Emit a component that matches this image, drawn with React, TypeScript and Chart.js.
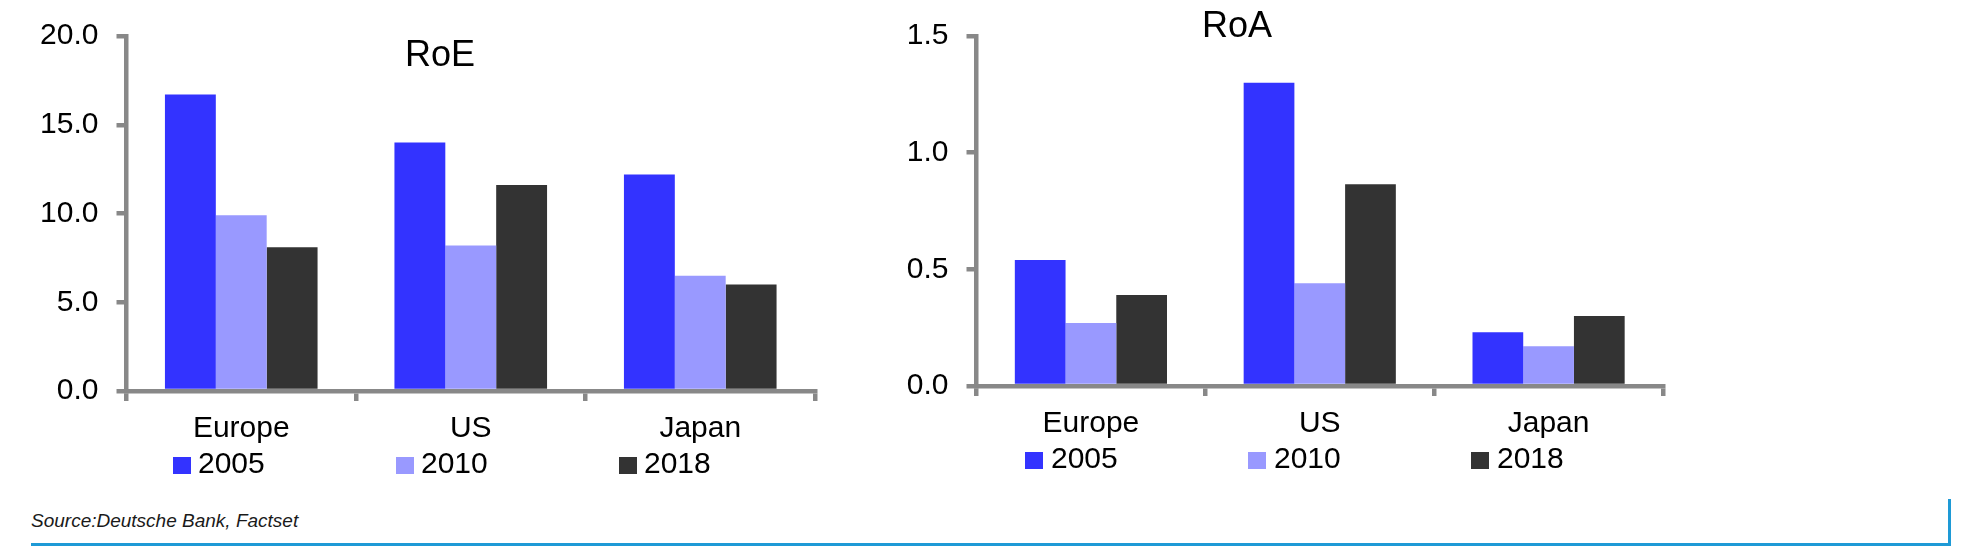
import React, { useEffect, useRef } from "react";
import { Chart, registerables } from "chart.js";

Chart.register(...registerables);

// ---- data ----
const CATEGORIES = ["Europe", "US", "Japan"];
const SERIES_LABELS = ["2005", "2010", "2018"];
const SERIES_COLORS = ["#3333FF", "#9999FF", "#333333"];

const ROE_2005 = [16.7, 14.0, 12.2];
const ROE_2010 = [9.9, 8.2, 6.5];
const ROE_2018 = [8.1, 11.6, 6.0];

const ROA_2005 = [0.54, 1.3, 0.23];
const ROA_2010 = [0.27, 0.44, 0.17];
const ROA_2018 = [0.39, 0.865, 0.3];

const ROE_AXIS = { min: 0, max: 20, step: 5 };
const ROA_AXIS = { min: 0, max: 1.5, step: 0.5 };

const SOURCE_TEXT = "Source:Deutsche Bank, Factset";

// ---- style ----
const FONT = '"Liberation Sans", Arial, Helvetica, sans-serif';
const AXIS_GREY = "#888888";
const AXIS_WIDTH = 4.5;
const RULE_BLUE = "#1e9ad6";

type PanelProps = {
  title: string;
  series: number[][];
  axis: { min: number; max: number; step: number };
  canvasLeft: number;
  canvasWidth: number;
  canvasHeight: number;
  padRight: number;
  padTop: number;
  padBottom: number;
  titleCenterX: number;
  titleTop: number;
  legendLeft: number;
  legendTop: number;
  legendTextOffset: number;
};

function BarPanel(p: PanelProps) {
  const ref = useRef<HTMLCanvasElement | null>(null);

  useEffect(() => {
    if (!ref.current) return;
    const chart = new Chart(ref.current, {
      type: "bar",
      data: {
        labels: CATEGORIES,
        datasets: p.series.map((vals, i) => ({
          label: SERIES_LABELS[i],
          data: vals,
          backgroundColor: SERIES_COLORS[i],
          borderWidth: 0,
          categoryPercentage: 0.665,
          barPercentage: 1,
        })),
      },
      options: {
        animation: false,
        responsive: false,
        maintainAspectRatio: false,
        devicePixelRatio: 1,
        layout: {
          padding: { left: 0, right: p.padRight, top: p.padTop, bottom: p.padBottom },
        },
        plugins: {
          legend: { display: false },
          title: { display: false },
          tooltip: { enabled: false },
        },
        scales: {
          x: {
            offset: true,
            grid: {
              display: true,
              offset: true,
              drawOnChartArea: false,
              drawTicks: true,
              tickLength: 10,
              color: AXIS_GREY,
              lineWidth: AXIS_WIDTH,
            },
            border: { display: true, color: AXIS_GREY, width: AXIS_WIDTH },
            ticks: {
              color: "#000",
              font: { family: FONT, size: 30 },
              padding: 10,
              maxRotation: 0,
              autoSkip: false,
            },
            afterFit: (s: any) => {
              s.height = 60;
            },
          },
          y: {
            min: p.axis.min,
            max: p.axis.max,
            ticks: {
              stepSize: p.axis.step,
              callback: (v: any) => Number(v).toFixed(1),
              color: "#000",
              font: { family: FONT, size: 30 },
              padding: 18,
            },
            grid: {
              display: true,
              drawOnChartArea: false,
              drawTicks: true,
              tickLength: 10,
              color: AXIS_GREY,
              lineWidth: AXIS_WIDTH,
            },
            border: { display: true, color: AXIS_GREY, width: AXIS_WIDTH },
            afterFit: (s: any) => {
              s.width = 126.5;
            },
          },
        },
      },
    });
    return () => chart.destroy();
  }, []);

  return (
    <>
      <canvas
        ref={ref}
        width={p.canvasWidth}
        height={p.canvasHeight}
        style={{
          position: "absolute",
          left: p.canvasLeft,
          top: 0,
          width: p.canvasWidth,
          height: p.canvasHeight,
        }}
      />
      <div
        style={{
          position: "absolute",
          left: p.titleCenterX,
          top: p.titleTop,
          transform: "translateX(-50%)",
          fontFamily: FONT,
          fontSize: 36,
          lineHeight: "36px",
          color: "#000",
          whiteSpace: "nowrap",
        }}
      >
        {p.title}
      </div>
      {SERIES_LABELS.map((lab, i) => (
        <div
          key={lab}
          style={{
            position: "absolute",
            left: p.legendLeft + i * 223,
            top: p.legendTop,
            height: 30,
            width: 120,
            fontFamily: FONT,
            fontSize: 30,
            lineHeight: "30px",
            color: "#000",
          }}
        >
          <div
            style={{
              position: "absolute",
              left: 0,
              top: 9.4,
              width: 18,
              height: 17,
              background: SERIES_COLORS[i],
            }}
          />
          <div style={{ position: "absolute", left: p.legendTextOffset, top: 0, whiteSpace: "nowrap" }}>
            {lab}
          </div>
        </div>
      ))}
    </>
  );
}

export default function App() {
  return (
    <div
      style={{
        position: "absolute",
        left: 0,
        top: 0,
        width: 1965,
        height: 556,
        background: "#fff",
        overflow: "hidden",
      }}
    >
      <BarPanel
        title="RoE"
        series={[ROE_2005, ROE_2010, ROE_2018]}
        axis={ROE_AXIS}
        canvasLeft={0}
        canvasWidth={850}
        canvasHeight={460}
        padRight={35}
        padTop={36}
        padBottom={9}
        titleCenterX={440}
        titleTop={35.5}
        legendLeft={173}
        legendTop={447.6}
        legendTextOffset={25}
      />
      <BarPanel
        title="RoA"
        series={[ROA_2005, ROA_2010, ROA_2018]}
        axis={ROA_AXIS}
        canvasLeft={850}
        canvasWidth={880}
        canvasHeight={460}
        padRight={67}
        padTop={31}
        padBottom={14}
        titleCenterX={1237}
        titleTop={6.5}
        legendLeft={1025}
        legendTop={442.6}
        legendTextOffset={26}
      />
      <div
        style={{
          position: "absolute",
          left: 31,
          top: 511,
          fontFamily: FONT,
          fontStyle: "italic",
          fontSize: 19,
          lineHeight: "19px",
          color: "#1a1a1a",
          whiteSpace: "nowrap",
        }}
      >
        {SOURCE_TEXT}
      </div>
      <div
        style={{
          position: "absolute",
          left: 31,
          top: 499,
          width: 1917,
          height: 44,
          borderRight: `3px solid ${RULE_BLUE}`,
          borderBottom: `3px solid ${RULE_BLUE}`,
        }}
      />
    </div>
  );
}
